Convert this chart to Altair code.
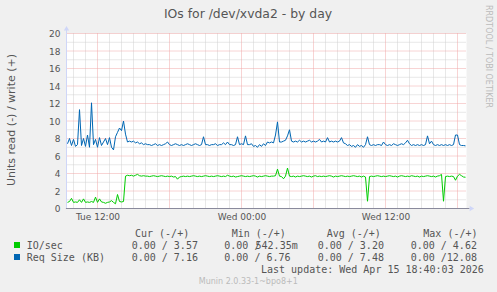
import altair as alt
import pandas as pd

# ---------------- data ----------------
START_HOUR = 9.5          # Tue 09:30 (hours since Tue 00:00)
STEP_HOURS = 1.0 / 6.0    # 10-minute samples

io_sec = [
    0.7, 0.8, 1.16, 0.7, 0.75, 0.7, 1.0, 0.7, 1.1, 0.7,
    0.75, 0.7, 0.8, 0.7, 1.3, 0.7, 1.1, 0.75, 0.7, 0.6,
    0.7, 0.75, 0.9, 0.7, 0.54, 1.6, 0.8, 0.75, 0.8, 3.7,
    3.8, 3.75, 3.8, 3.7, 3.8, 3.9, 3.75, 3.7, 3.75, 3.7,
    3.7, 3.65, 3.7, 3.75, 3.7, 3.65, 3.7, 3.75, 3.7, 3.65,
    3.7, 3.65, 3.7, 3.6, 3.65, 3.35, 3.6, 3.65, 3.7, 3.65,
    3.7, 3.65, 3.7, 3.75, 3.7, 3.65, 3.7, 3.65, 3.7, 3.75,
    3.7, 3.65, 3.7, 3.65, 3.7, 3.75, 3.7, 3.65, 3.7, 3.65,
    3.8, 3.7, 3.65, 3.7, 3.6, 3.65, 3.7, 3.75, 3.7, 3.65,
    3.7, 3.65, 3.7, 3.75, 3.7, 3.6, 3.7, 3.65, 3.7, 3.75,
    3.7, 3.65, 3.7, 3.7, 3.75, 4.5, 3.7, 3.65, 3.4, 3.7,
    4.62, 3.7, 3.65, 3.7, 3.6, 3.7, 3.65, 3.7, 3.75, 3.7,
    3.65, 3.7, 3.6, 3.7, 3.75, 3.65, 3.7, 3.65, 3.7, 3.65,
    3.7, 3.75, 3.7, 3.6, 3.7, 3.65, 3.7, 3.75, 3.7, 3.65,
    3.7, 3.65, 3.7, 3.75, 3.7, 3.65, 3.7, 3.6, 3.7, 3.6,
    0.83, 3.65, 3.7, 3.65, 3.7, 3.75, 3.7, 3.65, 3.7, 3.65,
    3.7, 3.75, 3.7, 3.65, 3.7, 3.6, 3.7, 3.75, 3.7, 3.65,
    3.7, 3.65, 3.75, 3.7, 3.65, 3.7, 3.6, 3.7, 3.65, 3.7,
    3.75, 3.7, 3.65, 3.7, 3.6, 3.7, 3.75, 3.9, 0.83, 3.65,
    3.7, 3.65, 3.7, 3.65, 3.23, 3.7, 3.9, 3.75, 3.6, 3.57,
]

req_size = [
    7.4, 8.0, 7.2, 7.9, 7.1, 7.3, 11.3, 7.2, 8.0, 7.1,
    8.4, 7.0, 12.08, 7.3, 7.9, 7.0, 8.1, 7.2, 7.6, 8.0,
    7.3, 8.1, 7.0, 6.7, 8.2, 8.7, 9.2, 8.9, 10.0, 8.5,
    7.6, 7.7, 7.6, 7.7, 7.5, 7.6, 7.4, 7.5, 7.3, 7.4,
    7.3, 7.3, 7.2, 7.3, 7.4, 7.2, 7.3, 7.2, 7.3, 7.4,
    7.6, 7.3, 7.2, 7.3, 7.4, 7.3, 7.2, 7.3, 7.2, 7.3,
    7.4, 7.3, 7.2, 7.3, 7.4, 7.3, 7.2, 7.3, 8.2, 7.3,
    7.3, 7.2, 7.3, 7.3, 7.4, 7.2, 7.3, 7.3, 7.5, 7.3,
    7.6, 7.3, 7.3, 7.2, 7.3, 8.2, 7.3, 7.4, 7.3, 8.3,
    7.3, 7.3, 7.4, 7.1, 7.2, 7.0, 7.3, 7.1, 7.4, 7.2,
    7.6, 7.5, 7.6, 7.5, 8.4, 9.9, 7.6, 7.6, 7.7, 7.8,
    8.3, 9.0, 7.7, 7.6, 7.7, 7.6, 7.8, 7.6, 7.7, 7.6,
    7.7, 7.8, 7.6, 7.7, 7.6, 7.7, 7.9, 7.6, 7.7, 7.6,
    8.1, 7.6, 7.7, 7.6, 7.7, 7.6, 7.7, 8.1, 7.5, 7.4,
    7.2, 7.3, 7.1, 7.2, 7.0, 7.3, 7.1, 7.2, 7.0, 7.3,
    8.2, 7.3, 7.2, 7.3, 7.2, 7.3, 7.3, 7.2, 7.6, 7.3,
    7.2, 7.3, 7.2, 7.4, 7.3, 7.2, 7.3, 7.4, 7.3, 7.5,
    7.8, 7.4, 7.2, 7.3, 7.2, 7.3, 7.2, 7.3, 7.2, 7.3,
    8.3, 7.4, 7.7, 7.3, 7.2, 7.3, 7.2, 7.3, 7.2, 7.3,
    7.2, 7.3, 7.2, 7.3, 8.4, 8.4, 7.3, 7.2, 7.2, 7.16,
]

series_names = ["IO/sec", "Req Size (KB)"]
series_colors = ["#00CC00", "#0066B3"]

x_domain = [9.4167, 42.75]     # Tue 09:25 .. Wed 18:45
y_domain = [0, 20]
x_tick_values = [12, 24, 36]
x_tick_labels = ["Tue 12:00", "Wed 00:00", "Wed 12:00"]
y_tick_values = [0, 2, 4, 6, 8, 10, 12, 14, 16, 18, 20]
minor_hours = [h for h in range(10, 43) if h % 6 != 0]
major_hours = [12, 18, 24, 30, 36, 42]
minor_levels = [1, 3, 5, 7, 9, 11, 13, 15, 17, 19]
major_levels = [2, 4, 6, 8, 10, 12, 14, 16, 18, 20]

title_text = "IOs for /dev/xvda2 - by day"
y_title_text = "Units read (-) / write (+)"
watermark_text = "RRDTOOL / TOBI OETIKER"
legend_headers = ["Cur (-/+)", "Min (-/+)", "Avg (-/+)", "Max (-/+)"]
io_stats = ["0.00 / 3.57", "0.00 /", "0.00 / 3.20", "0.00 / 4.62"]
io_min_overlay = "542.35m"
req_stats = ["0.00 / 7.16", "0.00 / 6.76", "0.00 / 7.48", "0.00 /12.08"]
last_update_text = "Last update: Wed Apr 15 18:40:03 2026"
version_text = "Munin 2.0.33-1~bpo8+1"

# ---------------- styling ----------------
SANS = "DejaVu Sans"
MONO = "DejaVu Sans Mono"
TEXT = "#555555"
AXIS_COL = "#CFD6F8"

rows = []
for name, vals in zip(series_names, [io_sec, req_size]):
    for i, v in enumerate(vals):
        rows.append({"hour": START_HOUR + i * STEP_HOURS, "value": v, "series": name})
lines_df = pd.DataFrame(rows)

xs = alt.Scale(domain=x_domain, nice=False, zero=False)
ys = alt.Scale(domain=y_domain, nice=False, zero=False)

label_expr = " : ".join(
    f"datum.value == {v} ? '{l}'" for v, l in zip(x_tick_values[:-1], x_tick_labels[:-1])
) + f" : '{x_tick_labels[-1]}'"

x_axis = alt.Axis(values=x_tick_values, labelExpr=label_expr, grid=False, ticks=False,
                  domain=False, labelFont=SANS, labelFontSize=9, labelColor=TEXT,
                  labelPadding=4, title=None, labelFlush=False, labelOverlap=False)
y_axis = alt.Axis(values=y_tick_values, grid=False, ticks=False, domain=False,
                  labelFont=SANS, labelFontSize=9, labelColor=TEXT, labelPadding=6.5,
                  title=None, labelOverlap=False)


def X(field="hour"):
    return alt.X(f"{field}:Q", scale=xs, axis=x_axis, title=None)


def Y(field="value"):
    return alt.Y(f"{field}:Q", scale=ys, axis=y_axis, title=None)


def XD(v):
    return alt.X(datum=v, type="quantitative", scale=xs, axis=x_axis, title=None)


def YD(v):
    return alt.Y(datum=v, type="quantitative", scale=ys, axis=y_axis, title=None)


def vgrid(hours, color):
    return alt.Chart(pd.DataFrame({"hour": hours})).mark_rule(
        color=color, strokeWidth=1, strokeDash=[1, 1]
    ).encode(x=X(), y=YD(0), y2=alt.datum(20))


def hgrid(levels, color):
    return alt.Chart(pd.DataFrame({"value": levels})).mark_rule(
        color=color, strokeWidth=1, strokeDash=[1, 1]
    ).encode(y=Y(), x=XD(x_domain[0]), x2=alt.datum(x_domain[1]))


grid = [
    vgrid(minor_hours, "#D0D0D0"),
    hgrid(minor_levels, "#D0D0D0"),
    vgrid(major_hours, "#F0A8A8"),
    hgrid(major_levels, "#F0A8A8"),
]

lines = alt.Chart(lines_df).mark_line(strokeWidth=1, interpolate="linear").encode(
    x=X(), y=Y(),
    color=alt.Color("series:N", scale=alt.Scale(domain=series_names, range=series_colors),
                    legend=None),
    detail="series:N",
)

# axes lines + arrows
left_axis = alt.Chart(pd.DataFrame({"hour": [x_domain[0]]})).mark_rule(
    color=AXIS_COL, strokeWidth=1).encode(x=X(), y=YD(0), y2=alt.datum(20.45))
bottom_axis = alt.Chart(pd.DataFrame({"value": [0]})).mark_rule(
    color="#8A8A9C", strokeWidth=1).encode(y=Y(), x=XD(x_domain[0] - 0.05),
                                          x2=alt.datum(43.0))
up_arrow = alt.Chart(pd.DataFrame({"hour": [x_domain[0]], "value": [20.6]})).mark_point(
    shape="triangle-up", filled=True, color=AXIS_COL, size=28, opacity=1).encode(x=X(), y=Y())
right_arrow = alt.Chart(pd.DataFrame({"hour": [43.2], "value": [0]})).mark_point(
    shape="triangle-right", filled=True, color=AXIS_COL, size=28, opacity=1).encode(x=X(), y=Y())


def txt(s, x, y, size=10, font=MONO, color=TEXT, align="left", angle=0):
    return alt.Chart(pd.DataFrame({"t": [s]})).mark_text(
        font=font, fontSize=size, color=color, align=align, baseline="alphabetic", angle=angle
    ).encode(text="t:N", x=alt.value(x), y=alt.value(y))


def square(color, y0):
    return alt.Chart(pd.DataFrame({"t": [0]})).mark_rect(color=color).encode(
        x=alt.value(-52.5), x2=alt.value(-46.5), y=alt.value(y0), y2=alt.value(y0 + 6))


texts = [
    txt(title_text, 181.5, -15.2, size=12.4, font=SANS, align="center"),
    txt(y_title_text, -51.5, 86.5, size=11, font=SANS, align="center", angle=270),
    txt(watermark_text, 419.5, -28.5, size=8, font=SANS, color="#BBBBBB", angle=90),
    square(series_colors[0], 208.5),
    square(series_colors[1], 220.5),
    txt(series_names[0], -39.8, 215.5),
    txt(series_names[1], -39.8, 227.5),
]
header_x = [68.5, 165.2, 260.2, 356.8]
value_x = [65.2, 157.8, 251.2, 344.2]
for hx, h in zip(header_x, legend_headers):
    texts.append(txt(h, hx, 203.5))
for vx, s in zip(value_x, io_stats):
    texts.append(txt(s, vx, 215.5))
texts.append(txt(io_min_overlay, 231.2, 215.5, align="right"))
for vx, s in zip(value_x, req_stats):
    texts.append(txt(s, vx, 227.5))
texts.append(txt(last_update_text, 194.5, 239.5))
texts.append(txt(version_text, 181.8, 250.5, size=8, font=SANS, color="#BBBBBB", align="center"))

chart = alt.layer(*grid, left_axis, lines, bottom_axis, up_arrow, right_arrow, *texts).properties(
    width=400, height=175,
    autosize=alt.AutoSizeParams(type="none"),
    padding={"left": 66.5, "top": 33.5, "right": 30.5, "bottom": 83.5},
    background="#F0F0F0",
).configure_view(fill="#FFFFFF", stroke=None)

chart.save("out.html", embed_options={"renderer": "svg", "actions": False})
